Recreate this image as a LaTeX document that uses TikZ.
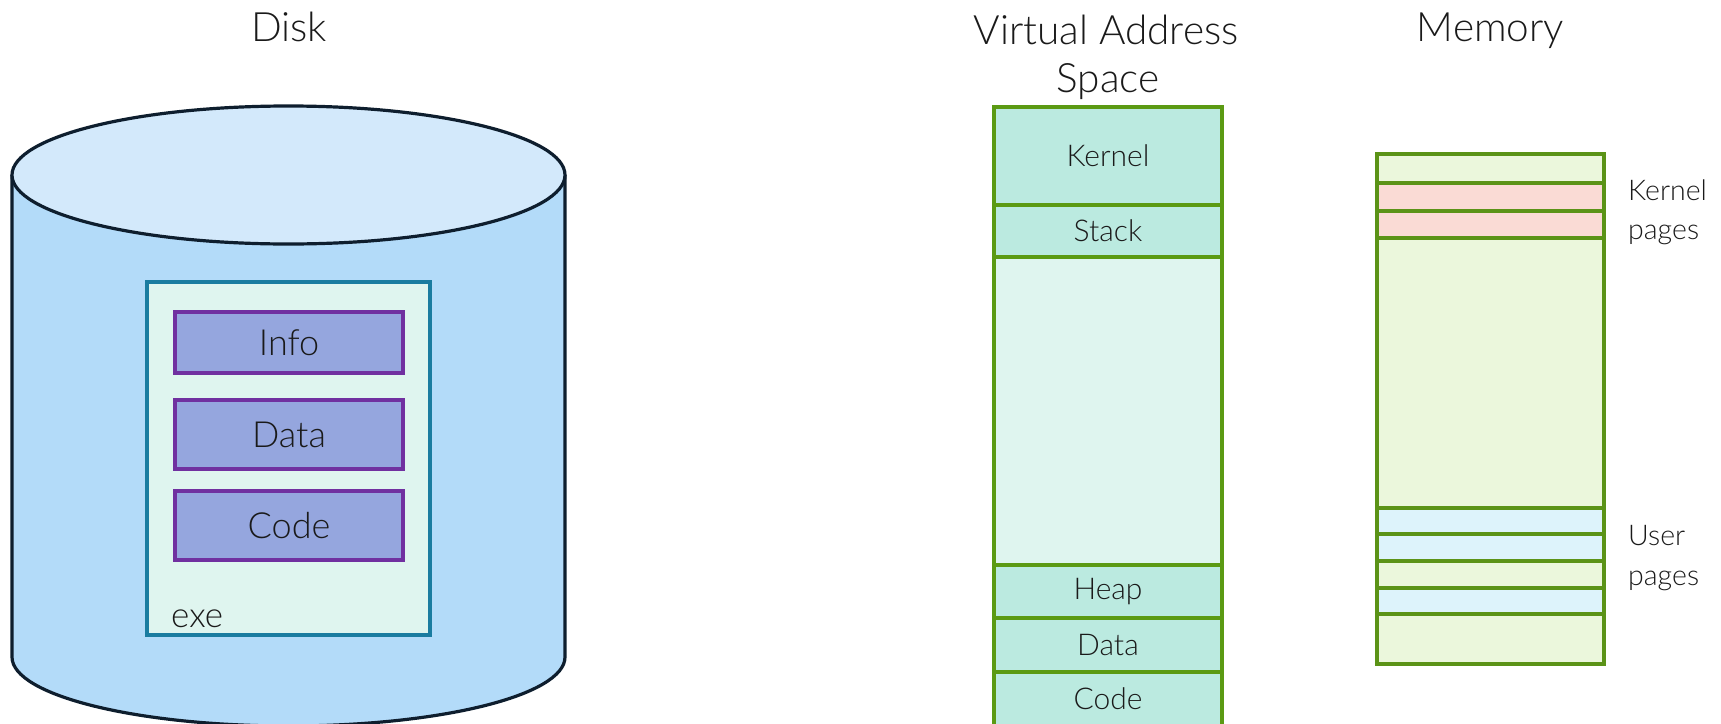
\documentclass[tikz,border=0pt]{standalone}
\usepackage{fontspec}
\setmainfont{Lato}[UprightFont={* Light}]
\definecolor{inkc}{HTML}{1A1A1A}
\definecolor{cylline}{HTML}{0E1E2E}
\definecolor{cylside}{HTML}{B3DBF9}
\definecolor{cyltop}{HTML}{D3E9FB}
\definecolor{exeline}{HTML}{1A7CA0}
\definecolor{exefill}{HTML}{DFF5EF}
\definecolor{segline}{HTML}{7030A0}
\definecolor{segfill}{HTML}{95A6DE}
\definecolor{vasline}{HTML}{5B9A13}
\definecolor{vasfill}{HTML}{BBEAE0}
\definecolor{vasfree}{HTML}{DFF5EF}
\definecolor{memline}{HTML}{5B9317}
\definecolor{memfree}{HTML}{EBF7DC}
\definecolor{memkern}{HTML}{FADBD5}
\definecolor{memuser}{HTML}{DDF3FB}
\begin{document}
\begin{tikzpicture}[x=1pt,y=-1pt,
  title/.style={text=inkc, font=\fontsize{40.5}{46}\selectfont, inner sep=0pt, anchor=base},
  segbox/.style={draw=segline, line width=3.2pt, fill=segfill, inner sep=0pt,
    minimum width=228pt, text=inkc, font=\fontsize{36}{40}\selectfont},
  vasbox/.style={draw=vasline, line width=3.2pt, fill=vasfill, inner sep=0pt,
    minimum width=228pt, text=inkc, font=\fontsize{30}{36}\selectfont},
  membox/.style={draw=memline, line width=3.2pt, inner sep=0pt, minimum width=227pt},
  sidelabel/.style={text=inkc, font=\fontsize{28.5}{34}\selectfont, inner sep=0pt, anchor=base west},
  cyledge/.style={draw=cylline, line width=3.2pt}
]
\clip (0,0) rectangle (1721,723);
\useasboundingbox (0,0) rectangle (1721,723);

% ---------- Disk ----------
\node[title] (disktitle) at (289,41) {Disk};
\fill[cylside] (12,175) rectangle (565,657);
\fill[cylside] (288.5,657) ellipse[x radius=276.5, y radius=69];
\draw[cyledge] (12,175) -- (12,657) arc[start angle=180, end angle=0, x radius=276.5, y radius=69] -- (565,175);
\draw[cyledge, fill=cyltop] (288.5,175) ellipse[x radius=276.5, y radius=69];

\node[draw=exeline, line width=3.2pt, fill=exefill, minimum width=283pt, minimum height=353pt, inner sep=0pt]
  (exe) at (288.5,458.5) {};
\node[text=inkc, font=\fontsize{35}{40}\selectfont, inner sep=0pt, anchor=base west] (exelabel) at (171,627) {exe};
\node[segbox, minimum height=61pt] (info) at (289,342.5) {Info};
\node[segbox, minimum height=69pt] (data) at (289,434.5) {Data};
\node[segbox, minimum height=69pt] (code) at (289,525.5) {Code};

% ---------- Virtual address space ----------
\node[title] (vastitle1) at (1106,44) {Virtual Address};
\node[title] (vastitle2) at (1108,92) {Space};
\node[vasbox, minimum height=98pt] (vkernel) at (1108,156) {Kernel};
\node[vasbox, minimum height=52pt] (vstack) at (1108,231) {Stack};
\node[vasbox, fill=vasfree, minimum height=308pt] (vfree) at (1108,411) {};
\node[vasbox, minimum height=53pt] (vheap) at (1108,591.5) {Heap};
\node[vasbox, minimum height=54pt] (vdata) at (1108,645) {Data};
\node[vasbox, minimum height=54pt] (vcode) at (1108,699) {Code};

% ---------- Physical memory ----------
\node[title] (memtitle) at (1490.5,41) {Memory};
\node[membox, fill=memfree, minimum height=29pt] (m1) at (1490.5,168.5) {};
\node[membox, fill=memkern, minimum height=28pt] (m2) at (1490.5,197) {};
\node[membox, fill=memkern, minimum height=27pt] (m3) at (1490.5,224.5) {};
\node[membox, fill=memfree, minimum height=270pt] (m4) at (1490.5,373) {};
\node[membox, fill=memuser, minimum height=26pt] (m5) at (1490.5,521) {};
\node[membox, fill=memuser, minimum height=27pt] (m6) at (1490.5,547.5) {};
\node[membox, fill=memfree, minimum height=27pt] (m7) at (1490.5,574.5) {};
\node[membox, fill=memuser, minimum height=26pt] (m8) at (1490.5,601) {};
\node[membox, fill=memfree, minimum height=50pt] (m9) at (1490.5,639) {};

\node[sidelabel] (klabel1) at (1628,200) {Kernel};
\node[sidelabel] (klabel2) at (1628,239) {pages};
\node[sidelabel] (ulabel1) at (1628,545) {User};
\node[sidelabel] (ulabel2) at (1628,585) {pages};
\end{tikzpicture}
\end{document}
